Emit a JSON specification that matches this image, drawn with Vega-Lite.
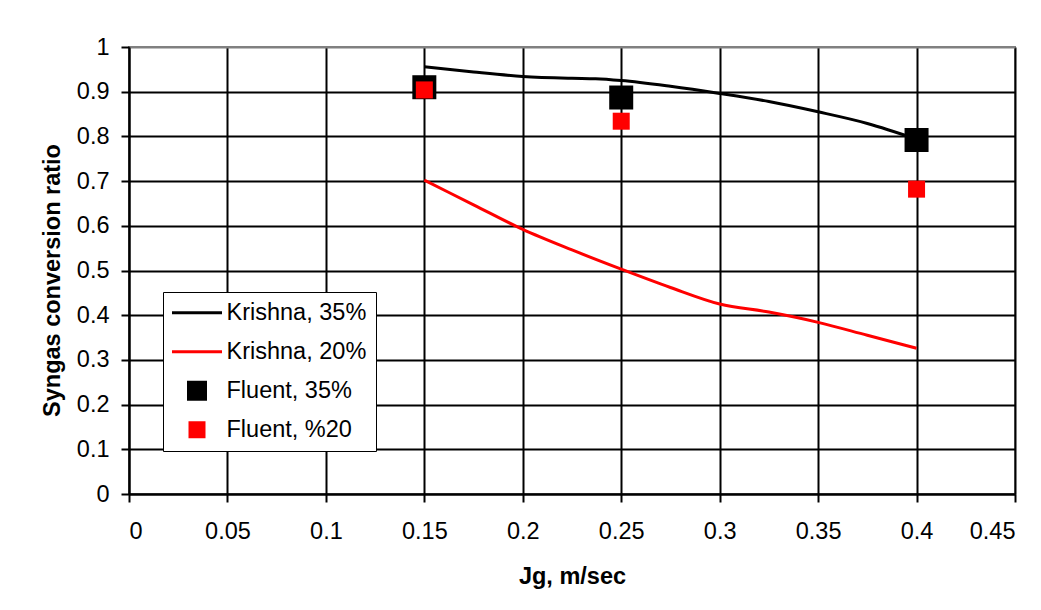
{
  "$schema": "https://vega.github.io/schema/vega-lite/v6.json",
  "width": 886,
  "height": 447,
  "autosize": {"type": "none"},
  "padding": {"left": 129, "top": 47, "right": 26, "bottom": 116},
  "background": "white",
  "config": {
    "font": "Liberation Sans",
    "view": {"stroke": "#808080", "strokeWidth": 2},
    "axis": {
      "domainColor": "#000000",
      "domainWidth": 2,
      "tickColor": "#000000",
      "tickWidth": 2,
      "tickSize": 8,
      "gridColor": "#000000",
      "gridWidth": 2,
      "gridOpacity": 1,
      "labelFont": "Liberation Sans",
      "labelFontSize": 23.5,
      "labelColor": "#000000",
      "titleFont": "Liberation Sans",
      "titleFontSize": 23.5,
      "titleFontWeight": "bold",
      "titleColor": "#000000"
    }
  },
  "datasets": {
    "krishna": [
      {"series": "Krishna, 35%", "jg": 0.15, "ratio": 0.956},
      {"series": "Krishna, 35%", "jg": 0.175, "ratio": 0.944},
      {"series": "Krishna, 35%", "jg": 0.2, "ratio": 0.934},
      {"series": "Krishna, 35%", "jg": 0.225, "ratio": 0.93},
      {"series": "Krishna, 35%", "jg": 0.237, "ratio": 0.929},
      {"series": "Krishna, 35%", "jg": 0.25, "ratio": 0.925},
      {"series": "Krishna, 35%", "jg": 0.275, "ratio": 0.912},
      {"series": "Krishna, 35%", "jg": 0.3, "ratio": 0.896},
      {"series": "Krishna, 35%", "jg": 0.325, "ratio": 0.878},
      {"series": "Krishna, 35%", "jg": 0.35, "ratio": 0.855},
      {"series": "Krishna, 35%", "jg": 0.375, "ratio": 0.829},
      {"series": "Krishna, 35%", "jg": 0.4, "ratio": 0.794},
      {"series": "Krishna, 20%", "jg": 0.15, "ratio": 0.702},
      {"series": "Krishna, 20%", "jg": 0.175, "ratio": 0.647},
      {"series": "Krishna, 20%", "jg": 0.2, "ratio": 0.592},
      {"series": "Krishna, 20%", "jg": 0.225, "ratio": 0.546},
      {"series": "Krishna, 20%", "jg": 0.25, "ratio": 0.503},
      {"series": "Krishna, 20%", "jg": 0.275, "ratio": 0.462},
      {"series": "Krishna, 20%", "jg": 0.3, "ratio": 0.425},
      {"series": "Krishna, 20%", "jg": 0.325, "ratio": 0.407},
      {"series": "Krishna, 20%", "jg": 0.35, "ratio": 0.384},
      {"series": "Krishna, 20%", "jg": 0.375, "ratio": 0.355},
      {"series": "Krishna, 20%", "jg": 0.4, "ratio": 0.326}
    ],
    "fluent": [
      {"series": "Fluent, 35%", "jg": 0.15, "ratio": 0.91},
      {"series": "Fluent, 35%", "jg": 0.25, "ratio": 0.887},
      {"series": "Fluent, 35%", "jg": 0.4, "ratio": 0.792},
      {"series": "Fluent, %20", "jg": 0.15, "ratio": 0.904},
      {"series": "Fluent, %20", "jg": 0.25, "ratio": 0.834},
      {"series": "Fluent, %20", "jg": 0.4, "ratio": 0.682}
    ]
  },
  "encoding": {
    "x": {
      "field": "jg",
      "type": "quantitative",
      "scale": {"domain": [0, 0.45], "nice": false, "zero": false},
      "axis": {
        "title": "Jg, m/sec",
        "values": [0, 0.05, 0.1, 0.15, 0.2, 0.25, 0.3, 0.35, 0.4, 0.45],
        "format": "~g",
        "labelPadding": 17,
        "titlePadding": 22
      }
    },
    "y": {
      "field": "ratio",
      "type": "quantitative",
      "scale": {"domain": [0, 1], "nice": false},
      "axis": {
        "title": "Syngas conversion ratio",
        "titleY": 233,
        "values": [0, 0.1, 0.2, 0.3, 0.4, 0.5, 0.6, 0.7, 0.8, 0.9, 1],
        "format": "~g",
        "labelPadding": 12,
        "titlePadding": 12,
        "gridColor": {"condition": {"test": "datum.value == 1", "value": "#808080"}, "value": "#000000"}
      }
    },
    "color": {
      "field": "series",
      "type": "nominal",
      "scale": {
        "domain": ["Krishna, 35%", "Krishna, 20%", "Fluent, 35%", "Fluent, %20"],
        "range": ["#000000", "#ff0000", "#000000", "#ff0000"]
      },
      "legend": {
        "title": null,
        "orient": "none",
        "legendX": 34,
        "legendY": 245,
        "direction": "vertical",
        "fillColor": "#ffffff",
        "strokeColor": "#000000",
        "padding": 9,
        "symbolSize": 2500,
        "labelOffset": 31,
        "labelFont": "Liberation Sans",
        "labelFontSize": 23.5,
        "labelColor": "#000000",
        "labelLimit": 300,
        "rowPadding": 14,
        "encode": {
          "symbols": {
            "update": {
              "x": {"value": 25},
              "shape": {"signal": "indexof(['Krishna, 35%', 'Krishna, 20%'], datum.value) >= 0 ? 'stroke' : 'square'"},
              "size": {"signal": "datum.value == 'Fluent, 35%' ? 400 : datum.value == 'Fluent, %20' ? 289 : 2500"},
              "strokeWidth": {"signal": "indexof(['Krishna, 35%', 'Krishna, 20%'], datum.value) >= 0 ? 3 : 0"},
              "stroke": {"signal": "indexof(['Krishna, 20%', 'Fluent, %20'], datum.value) >= 0 ? '#ff0000' : '#000000'"},
              "fill": {"signal": "indexof(['Krishna, 20%', 'Fluent, %20'], datum.value) >= 0 ? '#ff0000' : '#000000'"},
              "opacity": {"value": 1}
            }
          }
        }
      }
    }
  },
  "layer": [
    {
      "data": {"name": "krishna"},
      "mark": {"type": "line", "strokeWidth": 3, "interpolate": "monotone"}
    },
    {
      "data": {"name": "fluent"},
      "transform": [{"filter": "datum.series == 'Fluent, 35%'"}],
      "mark": {"type": "square", "filled": true, "opacity": 1, "size": 576}
    },
    {
      "data": {"name": "fluent"},
      "transform": [{"filter": "datum.series == 'Fluent, %20'"}],
      "mark": {"type": "square", "filled": true, "opacity": 1, "size": 289}
    }
  ]
}
